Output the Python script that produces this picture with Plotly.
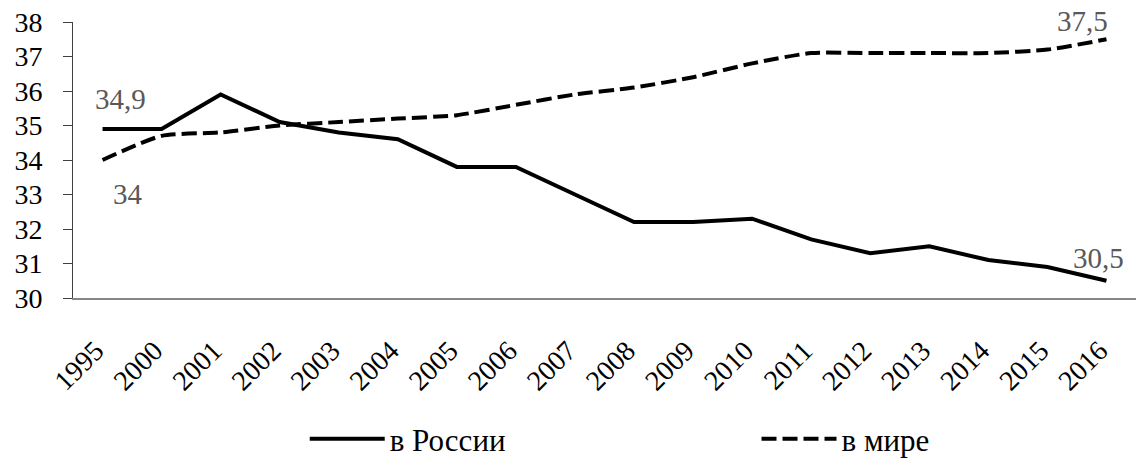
import plotly.graph_objects as go

years = ["1995", "2000", "2001", "2002", "2003", "2004", "2005", "2006", "2007",
         "2008", "2009", "2010", "2011", "2012", "2013", "2014", "2015", "2016"]
russia = [34.9, 34.9, 35.9, 35.1, 34.8, 34.6, 33.8, 33.8, 33.0,
          32.2, 32.2, 32.3, 31.7, 31.3, 31.5, 31.1, 30.9, 30.5]
world = [34.0, 34.7, 34.8, 35.0, 35.1, 35.2, 35.3, 35.6, 35.9,
         36.1, 36.4, 36.8, 37.1, 37.1, 37.1, 37.1, 37.2, 37.5]
series_names = ["в России", "в мире"]
y_ticks = [30, 31, 32, 33, 34, 35, 36, 37, 38]

FONT = "Liberation Serif"

fig = go.Figure()
fig.add_trace(go.Scatter(x=years, y=russia, mode="lines", name=series_names[0],
                         legend="legend",
                         line=dict(color="#000000", width=4)))
fig.add_trace(go.Scatter(x=years, y=world, mode="lines", name=series_names[1],
                         legend="legend2",
                         line=dict(color="#000000", width=4, dash="15px,6px",
                                   shape="spline", smoothing=0.6)))

ann_color = "#595959"
ann_font = dict(family=FONT, size=29, color=ann_color)
first, last = 0, len(years) - 1
fig.add_annotation(x=first, y=russia[first], text="34,9", showarrow=False,
                   xshift=18, yshift=30, font=ann_font)
fig.add_annotation(x=first, y=world[first], text="34", showarrow=False,
                   xshift=25, yshift=-34, font=ann_font)
fig.add_annotation(x=last, y=world[last], text="37,5", showarrow=False,
                   xshift=-24, yshift=18, font=ann_font)
fig.add_annotation(x=last, y=russia[last], text="30,5", showarrow=False,
                   xshift=-8, yshift=23, font=ann_font)

leg_common = dict(orientation="h", xanchor="left", yanchor="middle", y=-0.51,
                  font=dict(family=FONT, size=31, color="#000000"),
                  itemwidth=75, bgcolor="rgba(0,0,0,0)", borderwidth=0)

fig.update_layout(
    width=1136, height=466,
    margin=dict(l=73, r=0, t=22, b=167),
    paper_bgcolor="white", plot_bgcolor="white",
    font=dict(family=FONT, size=26, color="#000000"),
    showlegend=True,
    legend=dict(x=0.218, **leg_common),
    legend2=dict(x=0.643, **leg_common),
    xaxis=dict(type="category", categoryorder="array", categoryarray=years,
               range=[-0.5, 17.5], showline=True, linecolor="#868686", linewidth=2,
               ticks="", tickangle=-45, showgrid=False, zeroline=False,
               automargin=False, ticklabelstandoff=23, ticklabelshift=-7,
               tickfont=dict(family=FONT, size=28, color="#000000")),
    yaxis=dict(range=[30, 38], tickvals=y_ticks, ticktext=[str(v) for v in y_ticks],
               showline=True, linecolor="#404040", linewidth=1,
               ticks="outside", ticklen=9, tickcolor="#404040", tickwidth=1,
               ticklabelstandoff=15, automargin=False,
               showgrid=False, zeroline=False,
               tickfont=dict(family=FONT, size=28, color="#000000")),
)

fig.write_html("out.html", config={"displayModeBar": False},
               post_script="document.body.style.margin='0px';document.body.style.padding='0px';")
